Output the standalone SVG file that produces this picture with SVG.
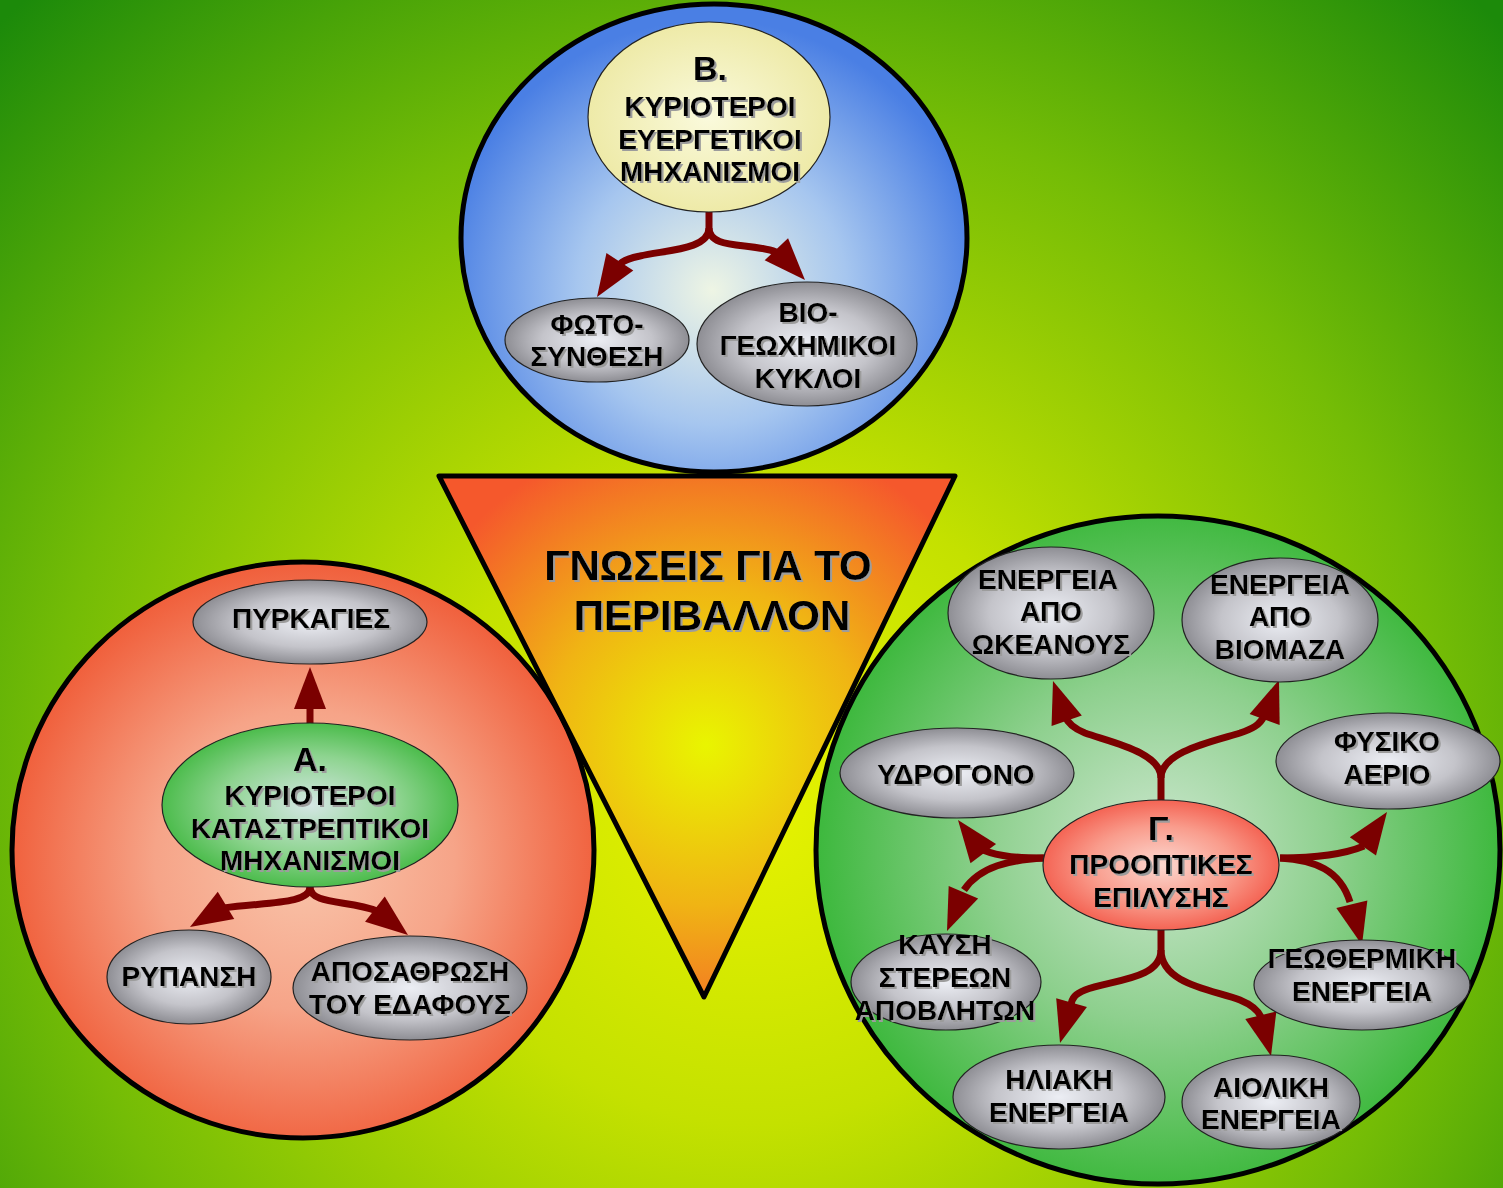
<svg xmlns="http://www.w3.org/2000/svg" xmlns:xlink="http://www.w3.org/1999/xlink" width="1503" height="1188" viewBox="0 0 1503 1188">
<defs>
<radialGradient id="bg" gradientUnits="userSpaceOnUse" cx="750" cy="800" r="1080">
<stop offset="0" stop-color="#e8f300"/>
<stop offset="0.3" stop-color="#c4e100"/>
<stop offset="0.65" stop-color="#74bc06"/>
<stop offset="1" stop-color="#1c8a0a"/>
</radialGradient>
<radialGradient id="gBlue" gradientUnits="userSpaceOnUse" cx="712" cy="290" r="270">
<stop offset="0" stop-color="#eef5e4"/>
<stop offset="0.5" stop-color="#a6c6ef"/>
<stop offset="1" stop-color="#4a7fe4"/>
</radialGradient>
<radialGradient id="gRed" gradientUnits="userSpaceOnUse" cx="305" cy="860" r="300">
<stop offset="0" stop-color="#f9c6ac"/>
<stop offset="0.5" stop-color="#f6a488"/>
<stop offset="1" stop-color="#f05e3a"/>
</radialGradient>
<radialGradient id="gGreen" gradientUnits="userSpaceOnUse" cx="1160" cy="850" r="345">
<stop offset="0" stop-color="#cde7cf"/>
<stop offset="0.5" stop-color="#8ed08e"/>
<stop offset="1" stop-color="#3cb83c"/>
</radialGradient>
<radialGradient id="gTri" gradientUnits="userSpaceOnUse" cx="706" cy="745" r="320">
<stop offset="0" stop-color="#e9f500"/>
<stop offset="0.5" stop-color="#f0b414"/>
<stop offset="1" stop-color="#f5582c"/>
</radialGradient>
<radialGradient id="gGray">
<stop offset="0" stop-color="#eceef4"/>
<stop offset="0.6" stop-color="#c4c4ca"/>
<stop offset="1" stop-color="#8e8e94"/>
</radialGradient>
<radialGradient id="gYel">
<stop offset="0" stop-color="#fafadc"/>
<stop offset="1" stop-color="#eeeaa8"/>
</radialGradient>
<radialGradient id="gGrn">
<stop offset="0" stop-color="#d4e6e4"/>
<stop offset="0.6" stop-color="#8ed490"/>
<stop offset="1" stop-color="#4cbc4c"/>
</radialGradient>
<radialGradient id="gPink">
<stop offset="0" stop-color="#fcd8d0"/>
<stop offset="0.6" stop-color="#f99c8c"/>
<stop offset="1" stop-color="#f46454"/>
</radialGradient>
<filter id="sh" x="-5%" y="-10%" width="115%" height="130%">
<feDropShadow dx="2" dy="2" stdDeviation="0.4" flood-color="#9c9c9c" flood-opacity="1"/>
</filter>
<path id="ah" d="M0,0 L-42,-16 L-42,16 Z"/>
</defs>
<style>
.big{stroke:#000;stroke-width:5}
.node{stroke:#222;stroke-width:1.2}
.gray{fill:url(#gGray)}
text{font-family:"Liberation Sans",Arial,sans-serif;font-weight:bold;fill:#000;text-anchor:middle;filter:url(#sh)}
.t{font-size:28px}
.h{font-size:34px}
.title{font-size:42px}
.ln{fill:none;stroke:#7b0000;stroke-width:7}
.hd{fill:#7b0000}
</style>

<rect x="0" y="0" width="1503" height="1188" fill="url(#bg)"/>

<g id="circleB">
<ellipse class="big" cx="714" cy="238" rx="253" ry="234" fill="url(#gBlue)"/>
</g>
<g id="circleA">
<ellipse class="big" cx="303" cy="850" rx="291" ry="288" fill="url(#gRed)"/>
</g>
<g id="circleG">
<ellipse class="big" cx="1158" cy="850" rx="342" ry="334" fill="url(#gGreen)"/>
</g>
<g id="triangle">
<polygon class="big" points="439,476 955,476 704,997" fill="url(#gTri)" stroke-linejoin="round"/>
<text class="title" x="708" y="580">ΓΝΩΣΕΙΣ ΓΙΑ ΤΟ</text>
<text class="title" x="712" y="630">ΠΕΡΙΒΑΛΛΟΝ</text>
</g>

<g id="connectors">
<path class="ln" d="M709,212 L709,228 C709,250 665,250 640,256 C630,258 624,260 620,264"/>
<path class="ln" d="M709,228 C709,250 750,242 776,252"/>
<use href="#ah" class="hd" transform="translate(597,297) rotate(123)"/>
<use href="#ah" class="hd" transform="translate(805,280) rotate(47)"/>

<path class="ln" d="M310,724 L310,706"/>
<path class="ln" d="M310,887 C310,905 262,902 224,908"/>
<path class="ln" d="M310,887 C310,905 350,900 377,911"/>
<use href="#ah" class="hd" transform="translate(310,667) rotate(-90)"/>
<use href="#ah" class="hd" transform="translate(190,927) rotate(149)"/>
<use href="#ah" class="hd" transform="translate(408,935) rotate(38)"/>

<path class="ln" d="M1161,800 L1161,778 C1161,752 1110,742 1085,733 C1075,729 1068,724 1065,716"/>
<path class="ln" d="M1161,778 C1161,752 1210,742 1240,733 C1252,729 1260,725 1264,716"/>
<path class="ln" d="M1044,858 C1020,858 1000,857 983,850"/>
<path class="ln" d="M1044,858 C1010,860 980,866 964,890"/>
<path class="ln" d="M1280,858 C1310,858 1340,856 1364,846"/>
<path class="ln" d="M1280,858 C1315,860 1340,870 1350,902"/>
<path class="ln" d="M1161,930 L1161,950 C1161,980 1110,980 1085,990 C1075,994 1072,998 1071,1005"/>
<path class="ln" d="M1161,950 C1161,985 1215,990 1240,1000 C1252,1005 1258,1010 1261,1017"/>
<use href="#ah" class="hd" transform="translate(1053,681) rotate(-109)"/>
<use href="#ah" class="hd" transform="translate(1279,680) rotate(-70)"/>
<use href="#ah" class="hd" transform="translate(958,820) rotate(-127)"/>
<use href="#ah" class="hd" transform="translate(947,931) rotate(113)"/>
<use href="#ah" class="hd" transform="translate(1387,812) rotate(-55)"/>
<use href="#ah" class="hd" transform="translate(1362,945) rotate(76)"/>
<use href="#ah" class="hd" transform="translate(1060,1043) rotate(106)"/>
<use href="#ah" class="hd" transform="translate(1271,1056) rotate(76)"/>
</g>

<g id="nodeB">
<ellipse class="node" cx="709" cy="117" rx="121" ry="95" fill="url(#gYel)"/>
<text class="h" x="710" y="80">Β.</text>
<text class="t" x="710" y="116">ΚΥΡΙΟΤΕΡΟΙ</text>
<text class="t" x="710" y="149">ΕΥΕΡΓΕΤΙΚΟΙ</text>
<text class="t" x="710" y="181">ΜΗΧΑΝΙΣΜΟΙ</text>
</g>
<g id="nodePhoto">
<ellipse class="node gray" cx="597" cy="340" rx="92" ry="42"/>
<text class="t" x="597" y="334">ΦΩΤΟ-</text>
<text class="t" x="597" y="366">ΣΥΝΘΕΣΗ</text>
</g>
<g id="nodeBio">
<ellipse class="node gray" cx="807" cy="344" rx="110" ry="62"/>
<text class="t" x="808" y="322">ΒΙΟ-</text>
<text class="t" x="808" y="355">ΓΕΩΧΗΜΙΚΟΙ</text>
<text class="t" x="808" y="388">ΚΥΚΛΟΙ</text>
</g>

<g id="nodeA">
<ellipse class="node" cx="310" cy="805" rx="148" ry="82" fill="url(#gGrn)"/>
<text class="h" x="310" y="771">Α.</text>
<text class="t" x="310" y="805">ΚΥΡΙΟΤΕΡΟΙ</text>
<text class="t" x="310" y="838">ΚΑΤΑΣΤΡΕΠΤΙΚΟΙ</text>
<text class="t" x="310" y="870">ΜΗΧΑΝΙΣΜΟΙ</text>
</g>
<g id="nodeFires">
<ellipse class="node gray" cx="310" cy="622" rx="117" ry="42"/>
<text class="t" x="311" y="628">ΠΥΡΚΑΓΙΕΣ</text>
</g>
<g id="nodePollution">
<ellipse class="node gray" cx="189" cy="977" rx="82" ry="47"/>
<text class="t" x="189" y="986">ΡΥΠΑΝΣΗ</text>
</g>
<g id="nodeErosion">
<ellipse class="node gray" cx="410" cy="988" rx="117" ry="52"/>
<text class="t" x="410" y="981">ΑΠΟΣΑΘΡΩΣΗ</text>
<text class="t" x="410" y="1014">ΤΟΥ ΕΔΑΦΟΥΣ</text>
</g>

<g id="nodeG">
<ellipse class="node" cx="1161" cy="865" rx="118" ry="65" fill="url(#gPink)"/>
<text class="h" x="1161" y="840">Γ.</text>
<text class="t" x="1161" y="874">ΠΡΟΟΠΤΙΚΕΣ</text>
<text class="t" x="1161" y="907">ΕΠΙΛΥΣΗΣ</text>
</g>
<g id="nodeOcean">
<ellipse class="node gray" cx="1051" cy="613" rx="103" ry="66"/>
<text class="t" x="1048" y="589">ΕΝΕΡΓΕΙΑ</text>
<text class="t" x="1051" y="621">ΑΠΟ</text>
<text class="t" x="1051" y="654">ΩΚΕΑΝΟΥΣ</text>
</g>
<g id="nodeBiomass">
<ellipse class="node gray" cx="1280" cy="620" rx="98" ry="62"/>
<text class="t" x="1280" y="594">ΕΝΕΡΓΕΙΑ</text>
<text class="t" x="1280" y="626">ΑΠΟ</text>
<text class="t" x="1280" y="659">ΒΙΟΜΑΖΑ</text>
</g>
<g id="nodeGas">
<ellipse class="node gray" cx="1388" cy="761" rx="112" ry="48"/>
<text class="t" x="1387" y="751">ΦΥΣΙΚΟ</text>
<text class="t" x="1387" y="784">ΑΕΡΙΟ</text>
</g>
<g id="nodeHydrogen">
<ellipse class="node gray" cx="957" cy="773" rx="117" ry="45"/>
<text class="t" x="956" y="784">ΥΔΡΟΓΟΝΟ</text>
</g>
<g id="nodeWaste">
<ellipse class="node gray" cx="946" cy="982" rx="95" ry="48"/>
<text class="t" x="945" y="954">ΚΑΥΣΗ</text>
<text class="t" x="945" y="987">ΣΤΕΡΕΩΝ</text>
<text class="t" x="945" y="1020">ΑΠΟΒΛΗΤΩΝ</text>
</g>
<g id="nodeGeo">
<ellipse class="node gray" cx="1362" cy="985" rx="108" ry="45"/>
<text class="t" x="1362" y="968">ΓΕΩΘΕΡΜΙΚΗ</text>
<text class="t" x="1362" y="1001">ΕΝΕΡΓΕΙΑ</text>
</g>
<g id="nodeSolar">
<ellipse class="node gray" cx="1059" cy="1097" rx="106" ry="52"/>
<text class="t" x="1059" y="1089">ΗΛΙΑΚΗ</text>
<text class="t" x="1059" y="1122">ΕΝΕΡΓΕΙΑ</text>
</g>
<g id="nodeWind">
<ellipse class="node gray" cx="1271" cy="1102" rx="89" ry="47"/>
<text class="t" x="1271" y="1097">ΑΙΟΛΙΚΗ</text>
<text class="t" x="1271" y="1129">ΕΝΕΡΓΕΙΑ</text>
</g>
</svg>
